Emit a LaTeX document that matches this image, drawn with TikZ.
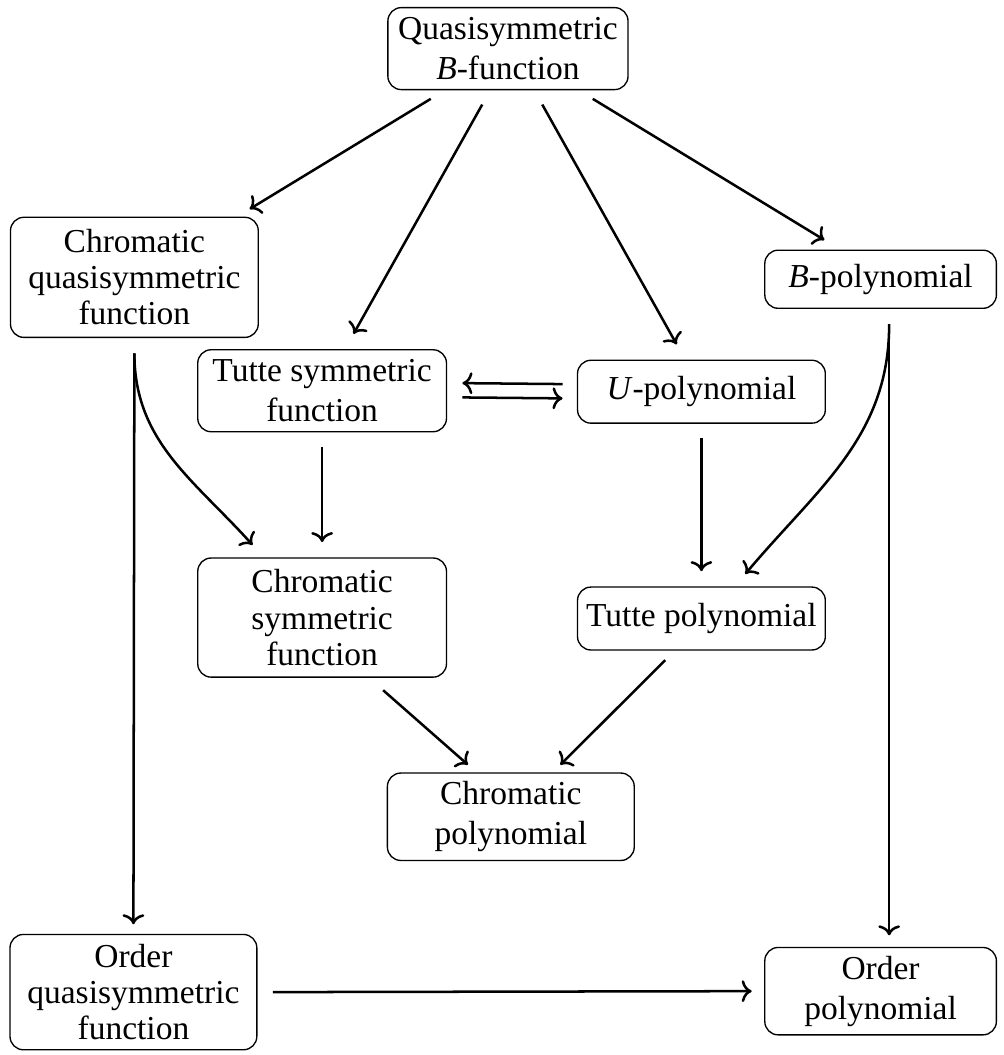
\documentclass[tikz,border=0pt]{standalone}
\usepackage{fontspec}
\setmainfont{Liberation Serif}
\usepackage{tikz}
\usetikzlibrary{arrows.meta}

\begin{document}
\begin{tikzpicture}[>={To[length=3pt,width=6.5pt]},
  box/.style={draw, rounded corners=4pt, align=center, inner sep=2.5pt, line width=0.4pt},
  tall/.style={box, font=\fontsize{10}{10.8}\selectfont},
  link/.style={->, line width=0.75pt}]
  \useasboundingbox (0,0) rectangle (10.535,-11.07);
  \node[box, minimum width=2.52cm, minimum height=0.86cm] (qsB) at (5.33,-0.51) {Quasisymmetric\\\textit{B}\/-function};
  \node[tall, minimum width=2.60cm, minimum height=1.26cm] (cqsf) at (1.41,-2.91) {Chromatic\\quasisymmetric\\function};
  \node[box, minimum width=2.43cm, minimum height=0.61cm] (bp) at (9.24,-2.93) {\textit{B}\/-polynomial};
  \node[box, minimum width=2.61cm, minimum height=0.86cm] (tsf) at (3.38,-4.10) {Tutte symmetric\\function};
  \node[box, minimum width=2.60cm, minimum height=0.66cm] (up) at (7.36,-4.11) {\textit{U}\/-polynomial};
  \node[tall, minimum width=2.61cm, minimum height=1.25cm] (csf) at (3.38,-6.48) {Chromatic\\symmetric\\function};
  \node[box, minimum width=2.60cm, minimum height=0.66cm] (tp) at (7.36,-6.49) {Tutte polynomial};
  \node[box, minimum width=2.59cm, minimum height=0.86cm] (cp) at (5.36,-8.57) {Chromatic\\polynomial};
  \node[tall, minimum width=2.59cm, minimum height=1.21cm] (oqsf) at (1.40,-10.41) {Order\\quasisymmetric\\function};
  \node[box, minimum width=2.43cm, minimum height=0.82cm] (op) at (9.24,-10.40) {Order\\polynomial};
  % from the top
  \draw[link] ([xshift=-0.81cm,yshift=-0.09cm]qsB.south) -- ([xshift=1.21cm,yshift=0.08cm]cqsf.north);
  \draw[link] ([xshift=-0.27cm,yshift=-0.15cm]qsB.south) -- ([xshift=0.33cm,yshift=0.16cm]tsf.north);
  \draw[link] ([xshift=0.36cm,yshift=-0.15cm]qsB.south) -- ([xshift=-0.26cm,yshift=0.16cm]up.north);
  \draw[link] ([xshift=0.89cm,yshift=-0.09cm]qsB.south) -- ([xshift=-0.59cm,yshift=0.10cm]bp.north);
  % left column
  \draw[link] ([yshift=-0.16cm]cqsf.south) -- ([yshift=0.10cm]oqsf.north);
  \draw[link] ([yshift=-0.16cm]cqsf.south) to[out=-90, in=132] ([xshift=-0.73cm,yshift=0.13cm]csf.north);
  \draw[link] ([yshift=-0.15cm]tsf.south) -- ([yshift=0.16cm]csf.north);
  % middle
  \draw[link] ([xshift=-0.15cm,yshift=0.08cm]up.west) -- ([xshift=0.16cm,yshift=0.08cm]tsf.east);
  \draw[link] ([xshift=0.16cm,yshift=-0.07cm]tsf.east) -- ([xshift=-0.15cm,yshift=-0.07cm]up.west);
  \draw[link] ([yshift=-0.15cm]up.south) -- ([yshift=0.16cm]tp.north);
  % right column
  \draw[link] ([xshift=0.09cm,yshift=-0.16cm]bp.south) to[out=-90, in=50] ([xshift=0.46cm,yshift=0.13cm]tp.north);
  \draw[link] ([xshift=0.09cm,yshift=-0.16cm]bp.south) -- ([xshift=0.09cm,yshift=0.12cm]op.north);
  % bottom
  \draw[link] ([xshift=0.64cm,yshift=-0.13cm]csf.south) -- ([xshift=-0.45cm,yshift=0.08cm]cp.north);
  \draw[link] ([xshift=-0.38cm,yshift=-0.10cm]tp.south) -- ([xshift=0.52cm,yshift=0.08cm]cp.north);
  \draw[link] ([xshift=0.16cm]oqsf.east) -- ([xshift=-0.13cm]op.west);
\end{tikzpicture}
\end{document}
